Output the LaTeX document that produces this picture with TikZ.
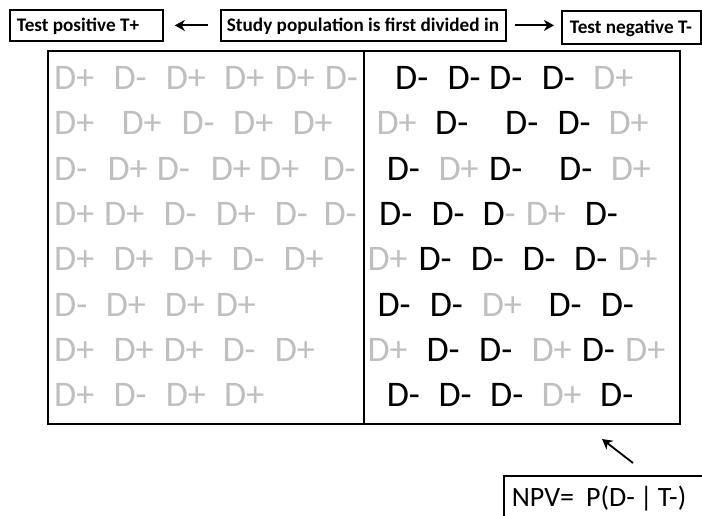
\documentclass[tikz,border=0pt]{standalone}
\usepackage{fontspec}
\setmainfont{Carlito}
\usetikzlibrary{arrows.meta}
\definecolor{tokgray}{RGB}{191,191,191}
% token texts: gray D+, gray D-, black D-, black D with gray minus
\newcommand\tp{\textcolor{tokgray}{D+}}
\newcommand\tm{\textcolor{tokgray}{D-}}
\newcommand\tb{D-}
\newcommand\tx{D\textcolor{tokgray}{-}}
\begin{document}
\begin{tikzpicture}[x=1pt,y=-1pt,
  panel/.style={draw, line width=2pt, inner sep=0pt, anchor=north west},
  topbox/.style={draw, line width=1.8pt, anchor=north west,
    font=\bfseries\fontsize{19.2}{19.2}\selectfont,
    text height=14.5pt, text depth=2pt, inner ysep=7.25pt},
  npvbox/.style={draw, line width=1.8pt, anchor=north west,
    font=\fontsize{28}{28}\selectfont, inner xsep=8pt,
    text height=18pt, text depth=12pt, inner ysep=13pt},
  tok/.style={inner sep=0pt, anchor=base west, xshift=-2.7pt,
    font=\fontsize{36}{36}\selectfont},
  arr/.style={line width=2pt, -{Stealth[length=10pt,width=11pt,inset=3pt]}}]
\useasboundingbox (0,0) rectangle (702,515);

% header boxes
\node[topbox, inner xsep=7pt] (pos) at (9,9) {\makebox[139pt][l]{Test positive T+}};
\node[topbox, inner xsep=6pt] (mid) at (220,9) {\makebox[273pt][l]{Study population is first divided in}};
\node[topbox, inner xsep=8pt, inner ysep=8.25pt] (neg) at (561,10) {\makebox[123pt][l]{Test negative T-}};
\draw[arr, shorten <=12pt, shorten >=11pt] (mid.west) -- (pos.east |- mid.west);
\draw[arr, shorten <=8pt, shorten >=7pt] (mid.east) -- (neg.west |- mid.east);

% the two halves of the population
\node[panel, minimum width=316pt, minimum height=373pt] (leftpanel) at (47,50) {};
\node[panel, minimum width=316pt, minimum height=373pt] (rightpanel) at (363,50) {};

% T+ half
\foreach \yy/\items [count=\r] in {
  89/{56.7/\tp,116/\tm,168.3/\tp,226.7/\tp,277.3/\tp,327.3/\tm},
  134/{56.7/\tp,124/\tp,184/\tm,235.7/\tp,295/\tp},
  180/{56.7/\tm,110/\tp,159.3/\tm,213.3/\tp,261.7/\tp,325/\tm},
  225/{56.7/\tp,106.7/\tp,166/\tm,218.3/\tp,277.3/\tm,326/\tm},
  270/{56.7/\tp,116/\tp,175/\tp,234/\tm,286/\tp},
  316/{56.7/\tm,108.3/\tp,167.3/\tp,218.3/\tp},
  361/{56.7/\tp,116/\tp,166/\tp,225/\tm,277.3/\tp},
  406/{56.7/\tp,116/\tm,168.3/\tp,226.7/\tp}}
  {\foreach \xx/\st [count=\c] in \items {\node[tok] (L\r-\c) at (\xx,\yy) {\st};}}

% T- half
\foreach \yy/\items [count=\r] in {
  89/{397.7/\tb,450/\tb,491.7/\tb,544.3/\tb,595.7/\tp},
  134/{379/\tp,437.7/\tb,507.7/\tb,560/\tb,611/\tp},
  180/{389.3/\tb,441/\tp,491.7/\tb,561.7/\tb,613.3/\tp},
  225/{381.7/\tb,434/\tb,485/\tx,528.3/\tp,587.3/\tb},
  270/{370/\tp,421/\tb,473.3/\tb,525/\tb,576.7/\tb,620/\tp},
  316/{380/\tb,432.3/\tb,484.3/\tp,551/\tb,603.3/\tb},
  361/{370/\tp,429/\tb,481.7/\tb,534/\tp,584.3/\tb,627.7/\tp},
  406/{389.3/\tb,441/\tb,492.7/\tb,544/\tp,602.7/\tb}}
  {\foreach \xx/\st [count=\c] in \items {\node[tok] (R\r-\c) at (\xx,\yy) {\st};}}

% negative predictive value
\node[npvbox] (npv) at (503,475) {\makebox[200pt][l]{NPV=\hspace{12pt}P(D-\hspace{5pt}|\hspace{5pt}T-)}};
\coordinate (npvtail) at (633,463);
\coordinate (npvtip) at (602,439);
\draw[arr, line width=1.8pt] (npvtail) -- (npvtip);
\end{tikzpicture}
\end{document}
